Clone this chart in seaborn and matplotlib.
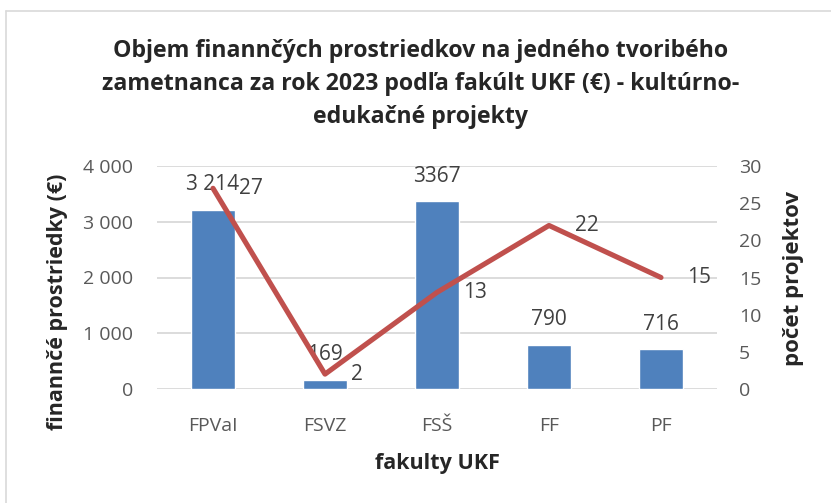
import numpy as np
import pandas as pd
import seaborn as sns
import matplotlib
matplotlib.use('Agg')
from matplotlib import pyplot as plt
from matplotlib.lines import Line2D

# data
fakulty = ['FPVaI', 'FSVZ', 'FSŠ', 'FF', 'PF']
prostriedky = [3214, 169, 3367, 790, 716]
prostriedky_labels = ['3 214', '169', '3367', '790', '716']
projekty = [27, 2, 13, 22, 15]
left_ticks = [0, 1000, 2000, 3000, 4000]
left_tick_labels = ['0', '1 000', '2 000', '3 000', '4 000']
right_ticks = [0, 5, 10, 15, 20, 25, 30]

# format plots
sns.set_style("white")
plt.rcParams['font.family'] = ['Open Sans', 'DejaVu Sans']

bar_color = '#4F81BD'
line_color = '#C0504D'
tick_color = '#595959'
label_color = '#404040'
grid_color = '#D9D9D9'

df = pd.DataFrame({'fakulta': fakulty, 'prostriedky': prostriedky,
                   'projekty': projekty, 'pos': np.arange(len(fakulty))})

fig = plt.figure(figsize=(8.31, 5.03), dpi=100)
ax = fig.add_axes([157 / 831, 1 - 389 / 503, 560 / 831, 223 / 503])

sns.barplot(data=df, x='fakulta', y='prostriedky', color=bar_color,
            saturation=1, width=0.4, ax=ax)
ax.set_ylim(0, 4000)
ax.set_xlim(-0.5, len(fakulty) - 0.5)
ax.set_yticks(left_ticks)
ax.set_yticklabels(left_tick_labels)
ax.yaxis.grid(True, color=grid_color, linewidth=1.3)
ax.set_axisbelow(True)
ax.set_xlabel('')
ax.set_ylabel('')
ax.tick_params(axis='y', length=0, pad=17, labelsize=14, labelcolor=tick_color)
ax.tick_params(axis='x', length=0, pad=20, labelsize=14, labelcolor=tick_color)
for s in ax.spines.values():
    s.set_visible(False)

for i, (v, lab) in enumerate(zip(prostriedky, prostriedky_labels)):
    ax.annotate(lab, (i, v), xytext=(0, 18), textcoords='offset points',
                ha='center', va='center', fontsize=15, color=label_color)

ax2 = ax.twinx()
sns.lineplot(data=df, x='pos', y='projekty', color=line_color, linewidth=3.7,
             ax=ax2)
ax2.set_ylim(0, 30)
ax2.set_yticks(right_ticks)
ax2.set_xlim(-0.5, len(fakulty) - 0.5)
ax2.set_xlabel('')
ax2.set_ylabel('')
ax2.tick_params(axis='y', length=0, pad=16, labelsize=14, labelcolor=tick_color)
for s in ax2.spines.values():
    s.set_visible(False)

for i, v in enumerate(projekty):
    ax2.annotate(str(v), (i, v), xytext=(18.5, 0), textcoords='offset points',
                 ha='left', va='center', fontsize=15, color=label_color)

# titles and labels
fig.text(421 / 831, 1 - 84 / 503,
         'Objem finannčých prostriedkov na jedného tvoribého\n'
         'zametnanca za rok 2023 podľa fakúlt UKF (€) - kultúrno-\n'
         'edukačné projekty',
         ha='center', va='center', fontsize=16.7, fontweight='bold',
         linespacing=1.5)
fig.text(58 / 831, 1 - 302 / 503, 'finannčé prostriedky (€)', rotation=90,
         ha='center', va='center', fontsize=15.5, fontweight='bold')
fig.text(793 / 831, 1 - 278 / 503, 'počet projektov', rotation=90,
         ha='center', va='center', fontsize=16, fontweight='bold')
fig.text(437 / 831, 1 - 463 / 503, 'fakulty UKF',
         ha='center', va='center', fontsize=15.5, fontweight='bold')

# chart border
fig.add_artist(Line2D([5.5 / 831, 5.5 / 831], [0, 1 - 10.5 / 503],
                      transform=fig.transFigure, color=grid_color, lw=1.2))
fig.add_artist(Line2D([5.5 / 831, 1], [1 - 10.5 / 503, 1 - 10.5 / 503],
                      transform=fig.transFigure, color=grid_color, lw=1.2))

fig.savefig('out.png', dpi=100)
plt.close()
